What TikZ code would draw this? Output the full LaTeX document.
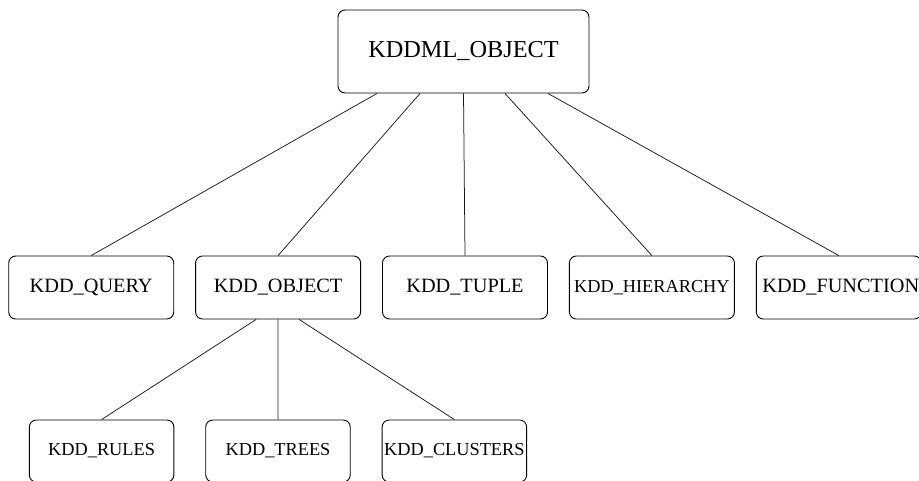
\documentclass[tikz,border=0pt]{standalone}
\usepackage{fontspec}
\setmainfont{Liberation Serif}
\usepackage{tikz}
\usetikzlibrary{positioning}
\tikzstyle{root}=[rectangle,rounded corners=7pt,draw=black,line width=0.9pt,minimum width=251pt,minimum height=83pt,inner sep=0pt,font=\fontsize{24.3}{28}\selectfont]
\tikzstyle{kind}=[rectangle,rounded corners=7pt,draw=black,line width=0.9pt,minimum width=165pt,minimum height=63pt,inner sep=0pt,font=\fontsize{20.3}{24}\selectfont]
\tikzstyle{subkind}=[kind,minimum width=144.5pt,minimum height=62pt,font=\fontsize{18.3}{22}\selectfont]
\tikzstyle{link}=[draw=black!90,line width=0.75pt]
\def\kindgap{21pt}
\def\subgap{31pt}

\begin{document}
\begin{tikzpicture}[x=1pt,y=-1pt]
		\useasboundingbox (0,0) rectangle (919,480);

		% root object
		\node[root] (kddml) at (463.5,51.5) {KDDML\_OBJECT};

		% first level
		\node[kind] (query) at (91.2,287.5) {KDD\_QUERY};
		\node[kind,right=\kindgap of query] (object) {KDD\_OBJECT};
		\node[kind,right=\kindgap of object] (tuple) {KDD\_TUPLE};
		\node[kind,right=\kindgap of tuple,font=\fontsize{18.3}{22}\selectfont] (hierarchy) {KDD\_HIERARCHY};
		\node[kind,right=\kindgap of hierarchy] (function) {\hspace*{4pt}KDD\_FUNCTION};

		% second level
		\node[subkind] (rules) at (101.6,451) {KDD\_RULES};
		\node[subkind,right=\subgap of rules] (trees) {KDD\_TREES};
		\node[subkind,right=\subgap of trees] (clusters) {KDD\_CLUSTERS};

		% Connections
		\draw[link] ([xshift=-86.5pt]kddml.south) -- (query.north);
		\draw[link] ([xshift=-43.5pt]kddml.south) -- (object.north);
		\draw[link] (kddml.south) -- (tuple.north);
		\draw[link] ([xshift=41.5pt]kddml.south) -- (hierarchy.north);
		\draw[link] ([xshift=84.5pt]kddml.south) -- (function.north);
		\draw[link] ([xshift=-22pt]object.south) -- (rules.north);
		\draw[link] (object.south) -- (trees.north);
		\draw[link] ([xshift=21pt]object.south) -- (clusters.north);
	\end{tikzpicture}
\end{document}
